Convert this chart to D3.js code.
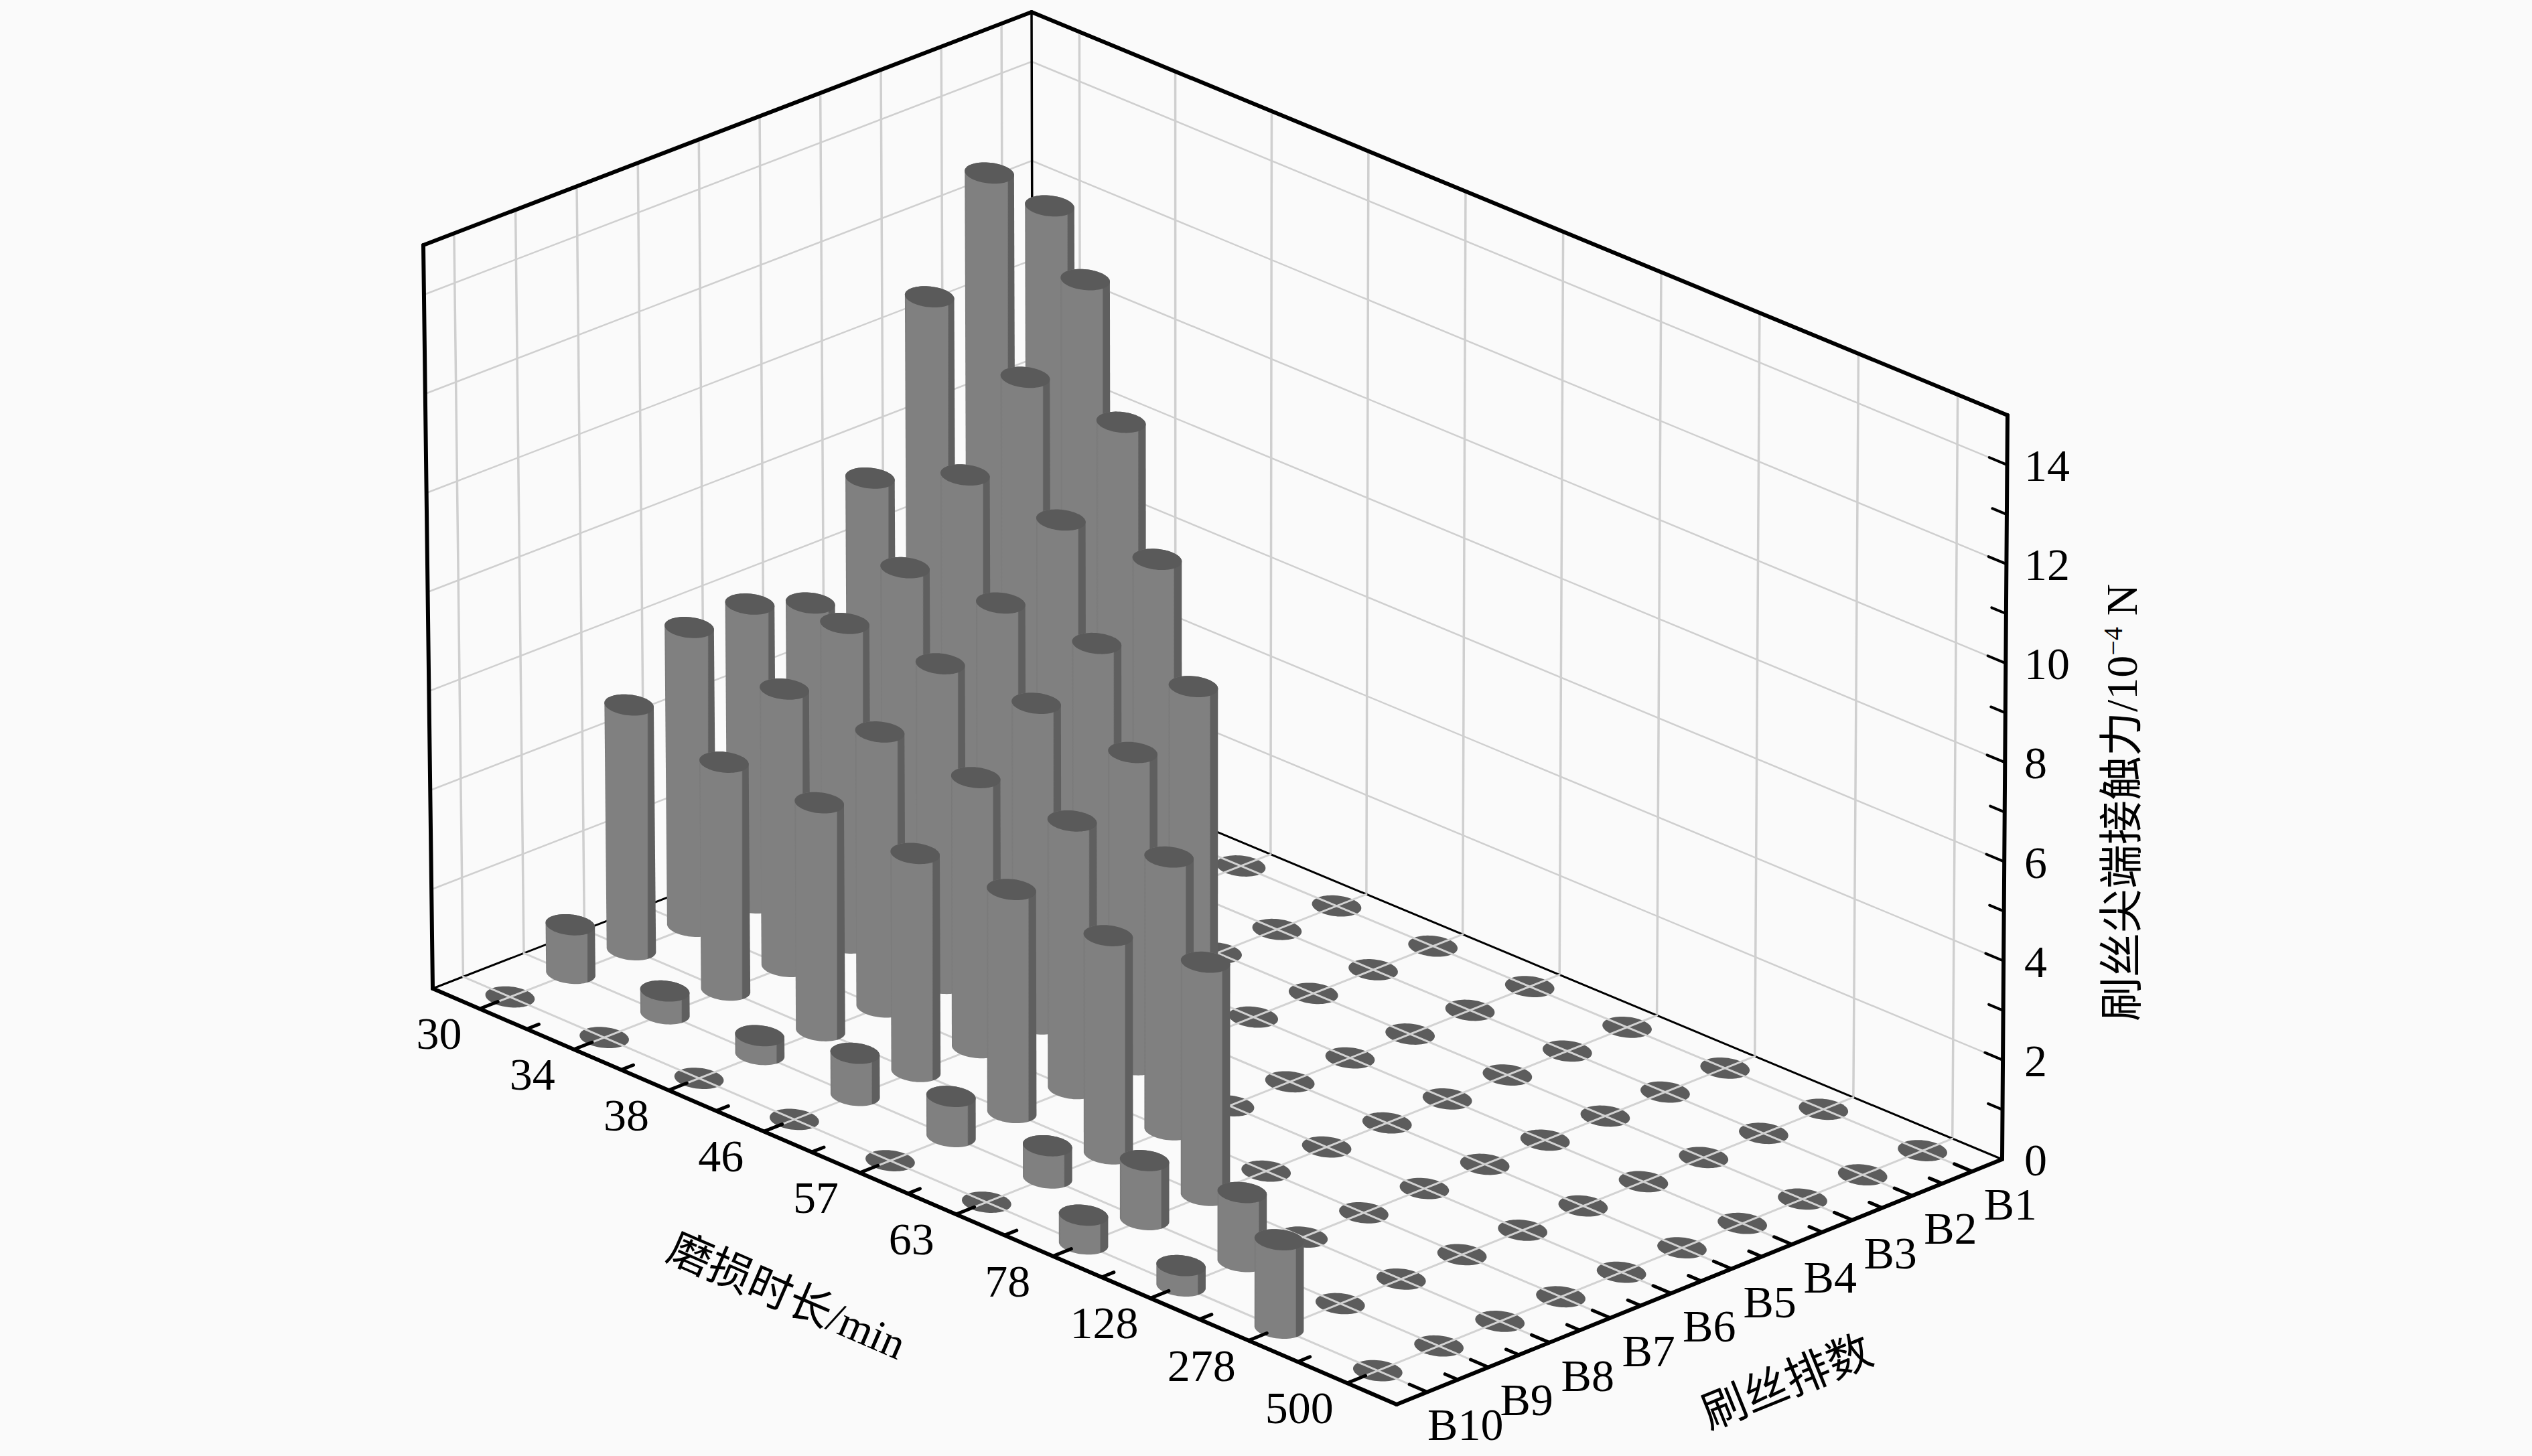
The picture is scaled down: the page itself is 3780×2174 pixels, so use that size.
<!DOCTYPE html>
<html>
<head>
<meta charset="utf-8">
<script src="https://cdn.jsdelivr.net/npm/d3@7"></script>
<style>
  html, body { margin: 0; padding: 0; background: #fafafa; }
  text { font-family: "Liberation Serif", "Noto Sans CJK SC", serif; fill: #000; }
</style>
</head>
<body>
<div id="viz-container"></div>
<script>
// categories
let wearTimes = ["30", "34", "38", "46", "57", "63", "78", "128", "278", "500"];
let rows = ["B10", "B9", "B8", "B7", "B6", "B5", "B4", "B3", "B2", "B1"];
let zTicks = [0, 2, 4, 6, 8, 10, 12, 14];

// contact force per row, one value per wear time
let forceB10 = [0, 0, 0, 0, 0, 0, 0.58, 0.41, 1.78, 0];
let forceB9 = [0.98, 0.46, 0.38, 0.85, 0.81, 0.65, 1.19, 1.39, 0, 0];
let forceB8 = [4.94, 4.6, 4.6, 4.4, 4.5, 4.4, 4.7, 0, 0, 0];
let forceB7 = [6.03, 5.6, 5.55, 5.45, 5.4, 5.5, 0, 0, 0, 0];
let forceB6 = [6.03, 6.45, 6.45, 6.47, 6.3, 0, 0, 0, 0, 0];
let forceB5 = [5.58, 7.1, 7.2, 7.2, 7.15, 0, 0, 0, 0, 0];
let forceB4 = [7.63, 8.5, 8.4, 8.42, 0, 0, 0, 0, 0, 0];
let forceB3 = [10.82, 10, 9.9, 0, 0, 0, 0, 0, 0, 0];
let forceB2 = [12.85, 11.5, 0, 0, 0, 0, 0, 0, 0, 0];
let forceB1 = [11.72, 0, 0, 0, 0, 0, 0, 0, 0, 0];
let forces = [forceB10, forceB9, forceB8, forceB7, forceB6, forceB5, forceB4, forceB3, forceB2, forceB1];

let viz = d3.select("#viz-container")
    .append("svg")
        .attr("id", "viz")
        .attr("width", 3780)
        .attr("height", 2174)
        .style("display", "block")
;

let xScale = d3.scaleBand().domain(wearTimes).range([0, 1]);
let yScale = d3.scaleBand().domain(rows).range([0, 1]);
let zScale = d3.scaleLinear().domain([0, 15]).range([0, 1]);
let xc = d => xScale(d) + xScale.bandwidth() / 2;
let yc = d => yScale(d) + yScale.bandwidth() / 2;

// box corners on the page, order: left, front, right, back
let floorQuad = [[646, 1476], [2085, 2097], [2989, 1731], [1543, 1128]];
let topQuad = [[632, 366], [2087, 983], [2997, 620], [1540, 18]];

// unit square -> quad
function homography(q) {
    let [x0, y0] = q[0], [x1, y1] = q[1], [x2, y2] = q[2], [x3, y3] = q[3];
    let dx1 = x1 - x2, dx2 = x3 - x2, sx = x0 - x1 + x2 - x3;
    let dy1 = y1 - y2, dy2 = y3 - y2, sy = y0 - y1 + y2 - y3;
    let den = dx1 * dy2 - dx2 * dy1;
    let g = (sx * dy2 - dx2 * sy) / den;
    let h = (dx1 * sy - sx * dy1) / den;
    let a = x1 - x0 + g * x1, b = x3 - x0 + h * x3;
    let d = y1 - y0 + g * y1, e = y3 - y0 + h * y3;
    return (u, v) => {
        let w = g * u + h * v + 1;
        return [(a * u + b * v + x0) / w, (d * u + e * v + y0) / w];
    };
}
let floorH = homography(floorQuad);
let topH = homography(topQuad);

// u, v, w all 0..1 in the box
function project(u, v, w) {
    let p = floorH(u, v), t = topH(u, v);
    return [p[0] + (t[0] - p[0]) * w, p[1] + (t[1] - p[1]) * w];
}

function addLine(g, a, b, color, width) {
    g.append("line")
        .attr("x1", a[0]).attr("y1", a[1])
        .attr("x2", b[0]).attr("y2", b[1])
        .attr("stroke", color)
        .attr("stroke-width", width)
        .attr("stroke-linecap", "round")
    ;
}

let gridColor = "#cfcfcf";

// walls grid
let wallGrid = viz.append("g").attr("class", "wallGrid");
rows.forEach(r => addLine(wallGrid, project(0, yc(r), 0), project(0, yc(r), 1), gridColor, 3.5));
wearTimes.forEach(t => addLine(wallGrid, project(xc(t), 1, 0), project(xc(t), 1, 1), gridColor, 3.5));
zTicks.slice(1).forEach(z => {
    addLine(wallGrid, project(0, 0, zScale(z)), project(0, 1, zScale(z)), gridColor, 2.5);
    addLine(wallGrid, project(0, 1, zScale(z)), project(1, 1, zScale(z)), gridColor, 2.5);
});

// thin back edges
let backEdges = viz.append("g").attr("class", "backEdges");
addLine(backEdges, project(0, 0, 0), project(0, 1, 0), "#000", 3);
addLine(backEdges, project(0, 1, 0), project(1, 1, 0), "#000", 3);
addLine(backEdges, project(0, 1, 0), project(0, 1, 1), "#000", 3.5);

// one record per cell
let cells = [];
rows.forEach((r, j) => {
    wearTimes.forEach((t, i) => {
        cells.push({ time: t, row: r, value: forces[j][i] });
    });
});

// caps are drawn as page ellipses, the original renderer keeps them nearly level
let capA = 37, capB = 15.5, capTilt = 6 * Math.PI / 180;
let angles = d3.range(0, 2 * Math.PI, Math.PI / 36);
let ring = (d, w) => {
    let c = project(xc(d.time), yc(d.row), w);
    return angles.map(a => {
        let ex = capA * Math.cos(a), ey = capB * Math.sin(a);
        return [c[0] + ex * Math.cos(capTilt) - ey * Math.sin(capTilt), c[1] + ex * Math.sin(capTilt) + ey * Math.cos(capTilt)];
    });
};
let closed = d3.line().curve(d3.curveLinearClosed);

// zero height cells are flat discs under the floor grid
viz.append("g").attr("class", "discs")
    .selectAll(".disc").data(cells.filter(d => d.value === 0)).enter()
    .append("path")
        .attr("class", "disc")
        .attr("d", d => closed(ring(d, 0)))
        .attr("fill", "#5c5c5c")
;

let floorGrid = viz.append("g").attr("class", "floorGrid");
wearTimes.forEach(t => addLine(floorGrid, project(xc(t), 0, 0), project(xc(t), 1, 0), "#d2d2d2", 3));
rows.forEach(r => addLine(floorGrid, project(0, yc(r), 0), project(1, yc(r), 0), "#d2d2d2", 3));

// cylinder shading
let grad = viz.append("defs").append("linearGradient").attr("id", "barShade");
[[0, "#787878"], [0.04, "#808080"], [0.83, "#808080"], [0.85, "#5f5f5f"], [1, "#5f5f5f"]].forEach(s => {
    grad.append("stop").attr("offset", s[0]).attr("stop-color", s[1]);
});

// bars back to front
let bars = cells.filter(d => d.value > 0)
    .sort((a, b) => project(xc(a.time), yc(a.row), 0)[1] - project(xc(b.time), yc(b.row), 0)[1]);

let barG = viz.append("g").attr("class", "bars")
    .selectAll(".bar").data(bars).enter()
    .append("g").attr("class", "bar");

barG.append("path")
    .attr("d", d => closed(d3.polygonHull(ring(d, 0).concat(ring(d, zScale(d.value))))))
    .attr("fill", "url(#barShade)")
;
barG.append("path")
    .attr("d", d => closed(ring(d, zScale(d.value))))
    .attr("fill", "#5a5a5a")
;

// axis frame, heavy lines
let frame = viz.append("g").attr("class", "frame");
addLine(frame, project(0, 0, 0), project(1, 0, 0), "#000", 6);
addLine(frame, project(1, 0, 0), project(1, 1, 0), "#000", 6);
addLine(frame, project(1, 1, 0), project(1, 1, 1), "#000", 6);
addLine(frame, project(0, 0, 0), project(0, 0, 1), "#000", 6);
addLine(frame, project(0, 0, 1), project(0, 1, 1), "#000", 6);
addLine(frame, project(0, 1, 1), project(1, 1, 1), "#000", 6);

// ticks
let ticks = viz.append("g").attr("class", "ticks");
wearTimes.forEach((t, i) => {
    addLine(ticks, project(xc(t), 0, 0), project(xc(t), 0.03, 0), "#000", 5);
    if (i < wearTimes.length - 1) {
        let m = (xc(t) + xc(wearTimes[i + 1])) / 2;
        addLine(ticks, project(m, 0, 0), project(m, 0.02, 0), "#000", 5);
    }
});
rows.forEach((r, i) => {
    addLine(ticks, project(1, yc(r), 0), project(0.982, yc(r), 0), "#000", 5);
    if (i < rows.length - 1) {
        let m = (yc(r) + yc(rows[i + 1])) / 2;
        addLine(ticks, project(1, m, 0), project(0.987, m, 0), "#000", 5);
    }
});
d3.range(0, 15).forEach(z => {
    let len = z % 2 === 0 ? 0.018 : 0.0145;
    if (z > 0) addLine(ticks, project(1, 1, zScale(z)), project(1 - len, 1, zScale(z)), "#000", 4);
});

// tick labels
viz.append("g").selectAll(".xLabel").data(wearTimes).enter()
    .append("text")
        .attr("class", "xLabel")
        .attr("x", d => project(xc(d), 0, 0)[0] - 60 - 12 * xc(d))
        .attr("y", d => project(xc(d), 0, 0)[1] + 60)
        .attr("text-anchor", "middle")
        .attr("font-size", 68)
        .text(d => d)
;
viz.append("g").selectAll(".yLabel").data(rows).enter()
    .append("text")
        .attr("class", "yLabel")
        .attr("x", d => project(1, yc(d), 0)[0] + 57)
        .attr("y", d => project(1, yc(d), 0)[1] + 72)
        .attr("text-anchor", "middle")
        .attr("font-size", 68)
        .text(d => d)
;
viz.append("g").selectAll(".zLabel").data(zTicks).enter()
    .append("text")
        .attr("class", "zLabel")
        .attr("x", 3022)
        .attr("y", d => project(1, 1, zScale(d))[1] + 24)
        .attr("font-size", 68)
        .text(d => d)
;

// axis titles, leaning along their edges
viz.append("text")
    .attr("transform", "translate(992,1880) rotate(23.4)")
    .attr("font-size", 65)
    .text("磨损时长/min")
;
viz.append("text")
    .attr("transform", "translate(2552,2135) rotate(-22)")
    .attr("font-size", 67)
    .text("刷丝排数")
;
let zTitle = viz.append("text")
    .attr("transform", "translate(3190,1525) rotate(-90)")
    .attr("font-size", 66);
zTitle.append("tspan").text("刷丝尖端接触力/10");
zTitle.append("tspan").attr("font-size", 40).attr("dy", -22).text("−4");
zTitle.append("tspan").attr("dy", 22).text(" N");
</script>
</body>
</html>
